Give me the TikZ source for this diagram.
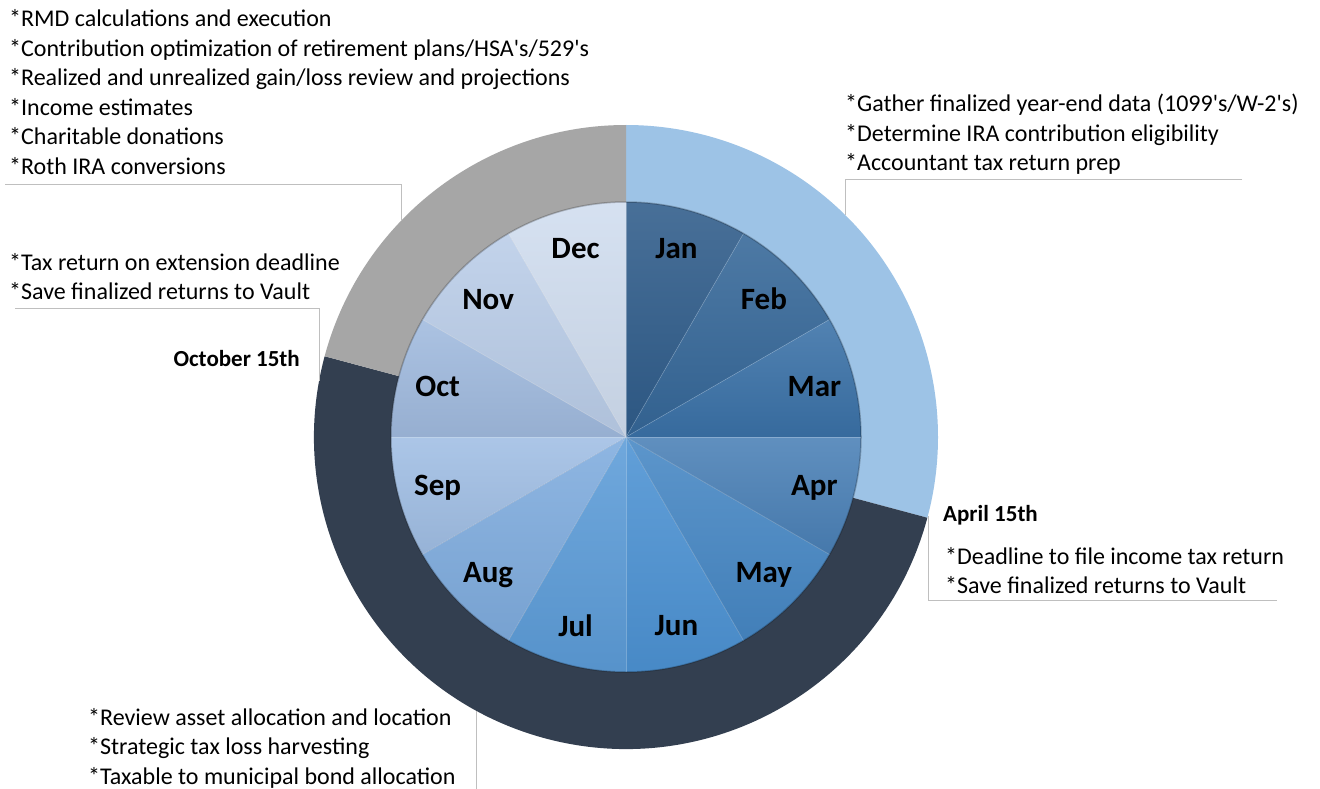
\documentclass[tikz,border=0pt]{standalone}
\usepackage{fontspec}
\setmainfont{Carlito}
\definecolor{ringblue}{RGB}{157,195,230}
\definecolor{ringgray}{RGB}{166,166,166}
\definecolor{ringnavy}{RGB}{51,63,80}
\definecolor{cjan}{RGB}{47,92,138}
\definecolor{cfeb}{RGB}{53,103,152}
\definecolor{cmar}{RGB}{58,113,167}
\definecolor{capr}{RGB}{74,128,182}
\definecolor{cmay}{RGB}{70,135,196}
\definecolor{cjun}{RGB}{76,146,211}
\definecolor{cjul}{RGB}{92,156,216}
\definecolor{caug}{RGB}{127,172,222}
\definecolor{csep}{RGB}{160,190,228}
\definecolor{coct}{RGB}{160,186,222}
\definecolor{cnov}{RGB}{186,205,232}
\definecolor{cdec}{RGB}{208,221,239}
\definecolor{calloutgray}{RGB}{191,191,191}
\newcommand{\apos}{\textquotesingle}
\tikzset{
  note/.style={font=\fontsize{24}{28}\selectfont, anchor=base west, inner sep=0pt},
  datelbl/.style={font=\bfseries\fontsize{23}{27}\selectfont, inner sep=0pt},
  month/.style={font=\bfseries\fontsize{31}{35}\selectfont, inner sep=0pt},
  callout/.style={draw=calloutgray, line width=1pt},
  sep/.style={draw=white, draw opacity=0.25, line width=0.6pt}
}
\begin{document}
\begin{tikzpicture}[x=1pt,y=1pt]
\useasboundingbox (0,0) rectangle (1320,-789);
\fill[white] (0,0) rectangle (1320,-789);
\coordinate (c) at (626,-437);
% outer ring
\fill[ringblue] (c) -- ([shift={(90:312)}]c) arc[start angle=90, end angle=-15, radius=312] -- cycle;
\fill[ringnavy] (c) -- ([shift={(-15:312)}]c) arc[start angle=-15, end angle=-195, radius=312] -- cycle;
\fill[ringgray] (c) -- ([shift={(165:312)}]c) arc[start angle=165, end angle=90, radius=312] -- cycle;
% inner pie
\foreach \i/\col in {0/cjan,1/cfeb,2/cmar,3/capr,4/cmay,5/cjun,6/cjul,7/caug,8/csep,9/coct,10/cnov,11/cdec}{
  \pgfmathsetmacro{\sa}{90-30*\i}
  \pgfmathsetmacro{\ea}{60-30*\i}
  \shade[top color=\col!88!white, bottom color=\col!94!black]
    (c) -- ([shift={(\sa:235)}]c) arc[start angle=\sa, end angle=\ea, radius=235] -- cycle;
  \draw[sep] (c) -- ([shift={(\sa:235)}]c);
}
\draw[black, draw opacity=0.22, line width=1.5pt] (c) circle[radius=235];
% month labels
\foreach \i/\m in {0/Jan,1/Feb,2/Mar,3/Apr,4/May,5/Jun,6/Jul,7/Aug,8/Sep,9/Oct,10/Nov,11/Dec}{
  \pgfmathsetmacro{\ma}{75-30*\i}
  \node[month] (m\i) at ([shift={(\ma:195)}]c) {\m};
}
% callout coordinates
\coordinate (tlA) at (5,-184);
\coordinate (tlB) at (401,-184);
\coordinate (tlC) at (401,-221);
\coordinate (nvA) at (15,-308);
\coordinate (nvB) at (319,-308);
\coordinate (nvC) at (319,-381);
\coordinate (trA) at (1242,-179);
\coordinate (trB) at (845,-179);
\coordinate (trC) at (845,-215);
\coordinate (apA) at (928,-516);
\coordinate (apB) at (928,-600);
\coordinate (apC) at (1277,-600);
\coordinate (btA) at (476,-711);
\coordinate (btB) at (476,-789);
\draw[callout] (tlA) -- (tlB) -- (tlC);
\draw[callout] (nvA) -- (nvB) -- (nvC);
\draw[callout] (trA) -- (trB) -- (trC);
\draw[callout] (apA) -- (apB) -- (apC);
\draw[callout] (btA) -- (btB);
% top-left notes
\node[note] (t1) at (9,-27) {*RMD calculations and execution};
\node[note] (t2) at (9,-56.5) {*Contribution optimization of retirement plans/HSA\apos s/529\apos s};
\node[note] (t3) at (9,-86) {*Realized and unrealized gain/loss review and projections};
\node[note] (t4) at (9,-115.5) {*Income estimates};
\node[note] (t5) at (9,-145) {*Charitable donations};
\node[note] (t6) at (9,-174.5) {*Roth IRA conversions};
% november notes
\node[note] (n1) at (9,-270) {*Tax return on extension deadline};
\node[note] (n2) at (9,-299.5) {*Save finalized returns to Vault};
\node[datelbl, anchor=base east] (oct15) at (300,-366) {October 15th};
% top-right notes
\node[note] (r1) at (845,-112) {*Gather finalized year-end data (1099\apos s/W-2\apos s)};
\node[note] (r2) at (845,-141.5) {*Determine IRA contribution eligibility};
\node[note] (r3) at (845,-171) {*Accountant tax return prep};
% april notes
\node[datelbl, anchor=base west] (apr15) at (943,-521) {April 15th};
\node[note] (a1) at (945,-564) {*Deadline to file income tax return};
\node[note] (a2) at (945,-593.5) {*Save finalized returns to Vault};
% bottom notes
\node[note] (b1) at (88,-725) {*Review asset allocation and location};
\node[note] (b2) at (88,-754.5) {*Strategic tax loss harvesting};
\node[note] (b3) at (88,-784) {*Taxable to municipal bond allocation};
\end{tikzpicture}
\end{document}
